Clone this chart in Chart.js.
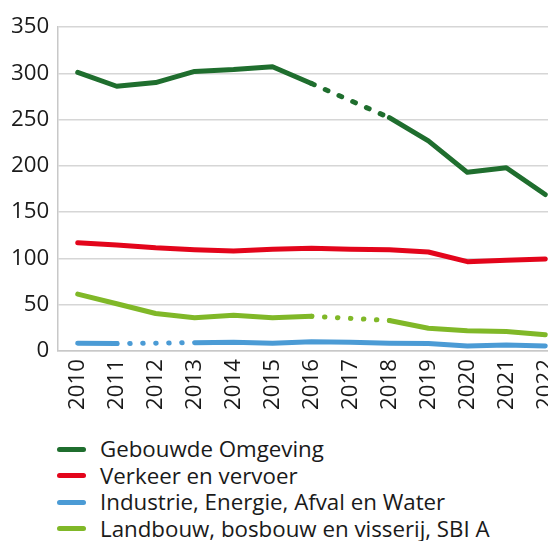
<!DOCTYPE html>
<html>
<head>
<meta charset="utf-8">
<script src="https://cdn.jsdelivr.net/npm/chart.js@4"></script>
<style>
  html, body { margin: 0; padding: 0; background: #fff; overflow: hidden; }
  body { width: 548px; height: 541px; font-family: "Open Sans", sans-serif; color: #1a1a1a; }
  #wrap { position: relative; width: 580px; height: 418px; }
  #legend { position: absolute; left: 57px; top: 436px; font-size: 22.3px; line-height: 26.5px; }
  #legend div { display: flex; align-items: center; white-space: nowrap; }
  #legend span.swatch { display: inline-block; width: 29px; height: 5px; border-radius: 3px; margin-right: 14px; }
</style>
</head>
<body>
<div id="wrap"><canvas id="chart"></canvas></div>
<div id="legend"></div>
<script>
const years = ['2010', '2011', '2012', '2013', '2014', '2015', '2016', '2017', '2018', '2019', '2020', '2021', '2022'];
const yTicks = [0, 50, 100, 150, 200, 250, 300, 350];

// null = geen waarde (gestippeld overbrugd)
const gebouwdeOmgeving = [301, 286, 290, 302, 304, 307, 289, null, 252, 227, 193, 198, 169];
const verkeerVervoer = [117, 114.5, 111.5, 109.5, 108, 110, 111, 110, 109.5, 107, 96.5, 98, 99.5];
const industrieEnergie = [8.5, 8, null, 9, 9.5, 8.5, 10, 9.5, 8.5, 8, 5.5, 6.5, 5.5];
const landbouw = [61.5, 51, 40.5, 36, 38.5, 36, 37.5, null, 33, 24.5, 22, 21, 17.5];

const names = ['Gebouwde Omgeving', 'Verkeer en vervoer', 'Industrie, Energie, Afval en Water', 'Landbouw, bosbouw en visserij, SBI A'];
const colors = ['#1f6e2e', '#e3051b', '#4b9bd5', '#80b828'];

const skipped = (ctx, value) => ctx.p0.skip || ctx.p1.skip ? value : undefined;

function makeSet(i, data, dash) {
  return {
    label: names[i],
    data: data,
    borderColor: colors[i],
    backgroundColor: colors[i],
    borderWidth: 5,
    borderCapStyle: 'round',
    borderJoinStyle: 'round',
    pointRadius: 0,
    pointHoverRadius: 0,
    tension: 0,
    spanGaps: true,
    segment: { borderDash: ctx => skipped(ctx, dash) }
  };
}

new Chart(document.getElementById('chart'), {
  type: 'line',
  data: {
    labels: years,
    datasets: [
      makeSet(0, gebouwdeOmgeving, [3, 12]),
      makeSet(1, verkeerVervoer, [3, 12]),
      makeSet(2, industrieEnergie, [0.5, 12.5]),
      makeSet(3, landbouw, [0.5, 12.5])
    ]
  },
  options: {
    responsive: true,
    maintainAspectRatio: false,
    animation: false,
    layout: { padding: { top: 27, left: 2, right: 0, bottom: 0 } },
    plugins: {
      legend: { display: false },
      tooltip: { enabled: false }
    },
    scales: {
      x: {
        offset: true,
        grid: { display: false, drawTicks: false },
        border: { display: true, color: '#c8c8c8', width: 1.5 },
        ticks: {
          color: '#1a1a1a',
          font: { family: 'Open Sans', size: 22.3 },
          minRotation: 90,
          maxRotation: 90,
          padding: 8,
          autoSkip: false
        }
      },
      y: {
        min: 0,
        max: 350,
        afterBuildTicks: axis => { axis.ticks = yTicks.map(v => ({ value: v })); },
        grid: { color: '#d6d6d6', lineWidth: 1.5, drawTicks: false },
        border: { display: true, color: '#c8c8c8', width: 1.5 },
        ticks: {
          color: '#1a1a1a',
          font: { family: 'Open Sans', size: 22.3 },
          padding: 9
        }
      }
    }
  }
});

const legend = document.getElementById('legend');
names.forEach((n, i) => {
  const row = document.createElement('div');
  row.innerHTML = '<span class="swatch" style="background:' + colors[i] + '"></span><span>' + n + '</span>';
  legend.appendChild(row);
});
</script>
</body>
</html>
